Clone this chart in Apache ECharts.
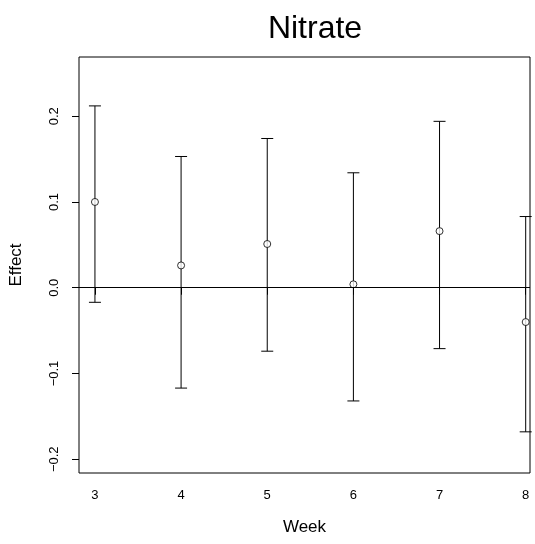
<!DOCTYPE html>
<html>
<head>
<meta charset="utf-8">
<script src="https://cdn.jsdelivr.net/npm/echarts@6/dist/echarts.min.js"></script>
<style>
html, body { margin: 0; padding: 0; background: #fff; }
#main { width: 535px; height: 544px; }
</style>
</head>
<body>
<div id="main"></div>
<script>
var weeks = [3, 4, 5, 6, 7, 8];
var effect = [0.100, 0.026, 0.051, 0.004, 0.066, -0.040];
var upper = [0.212, 0.153, 0.174, 0.134, 0.194, 0.083];
var lower = [-0.017, -0.117, -0.074, -0.132, -0.071, -0.168];
var yTicks = [-0.2, -0.1, 0.0, 0.1, 0.2];

var font = 'Liberation Sans, Arial, Helvetica, sans-serif';

var pointData = weeks.map(function (w, i) { return [w, effect[i]]; });
var barData = weeks.map(function (w, i) { return [w, lower[i], upper[i]]; });

var myChart = echarts.init(document.getElementById('main'));
var option = {
    animation: false,
    backgroundColor: '#fff',
    title: {
        text: 'Nitrate',
        left: 310,
        top: 8,
        textAlign: 'center',
        textStyle: { fontFamily: font, fontSize: 32, fontWeight: 'normal', color: '#000' }
    },
    grid: {
        left: 78, right: 5, top: 57, bottom: 71,
        show: true, borderColor: '#000', borderWidth: 1, backgroundColor: 'transparent'
    },
    xAxis: {
        type: 'value',
        min: 2.815, max: 8.05,
        name: 'Week',
        nameLocation: 'middle',
        nameGap: 46,
        nameTextStyle: { fontFamily: font, fontSize: 17, color: '#000' },
        axisLine: { show: false },
        splitLine: { show: false },
        axisTick: { show: true, length: 7, customValues: weeks, lineStyle: { color: '#000' } },
        axisLabel: {
            customValues: weeks, margin: 16,
            fontFamily: font, fontSize: 13, color: '#000'
        }
    },
    yAxis: {
        type: 'value',
        min: -0.216, max: 0.269,
        name: 'Effect',
        nameLocation: 'middle',
        nameGap: 54,
        nameTextStyle: { fontFamily: font, fontSize: 17, color: '#000' },
        axisLine: { show: false },
        splitLine: { show: false },
        axisTick: { show: true, length: 7, customValues: yTicks, lineStyle: { color: '#000' } },
        axisLabel: {
            customValues: yTicks, margin: 18, rotate: 90,
            fontFamily: font, fontSize: 13, color: '#000',
            formatter: function (v) { return v.toFixed(1).replace('-', '\u2212'); }
        }
    },
    series: [
        {
            type: 'custom',
            data: barData,
            renderItem: function (params, api) {
                var lo = api.coord([api.value(0), api.value(1)]);
                var hi = api.coord([api.value(0), api.value(2)]);
                var cap = 6;
                var style = { stroke: '#000', lineWidth: 1 };
                return {
                    type: 'group',
                    children: [
                        { type: 'line', shape: { x1: lo[0], y1: lo[1], x2: hi[0], y2: hi[1] }, style: style },
                        { type: 'line', shape: { x1: hi[0] - cap, y1: hi[1], x2: hi[0] + cap, y2: hi[1] }, style: style },
                        { type: 'line', shape: { x1: lo[0] - cap, y1: lo[1], x2: lo[0] + cap, y2: lo[1] }, style: style }
                    ]
                };
            },
            z: 2
        },
        {
            type: 'scatter',
            data: pointData,
            symbol: 'circle',
            symbolSize: 7,
            itemStyle: { color: '#fff', borderColor: '#000', borderWidth: 1 },
            z: 3,
            markLine: {
                silent: true,
                symbol: 'none',
                label: { show: false },
                lineStyle: { color: '#000', width: 1, type: 'solid' },
                data: [{ yAxis: 0 }]
            }
        }
    ]
};
myChart.setOption(option);
</script>
</body>
</html>
